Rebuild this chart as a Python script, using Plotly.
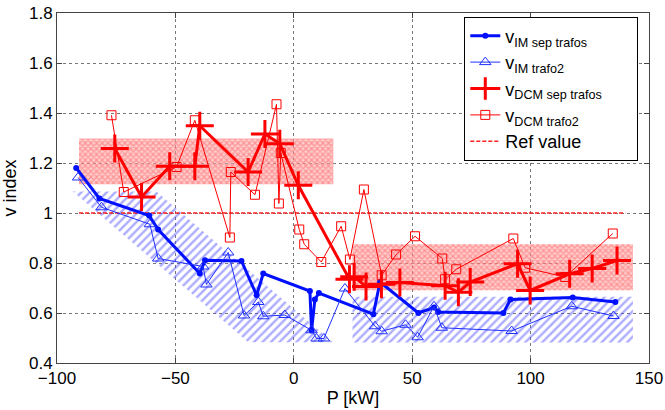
import plotly.graph_objects as go

# ---- data ----
im_sep_x = [-91.9, -82.1, -61.1, -57.3, -39.7, -37.5, -22.1, -15.7, -12.9, 6.8, 7.5, 8.9, 10.6,
            33.6, 36.4, 52.6, 59.2, 61.0, 88.5, 91.5, 117.8, 135.8]
im_sep_y = [1.18, 1.058, 0.99, 0.934, 0.758, 0.811, 0.808, 0.671, 0.758, 0.688, 0.53, 0.654, 0.68,
            0.595, 0.724, 0.600, 0.622, 0.604, 0.600, 0.654, 0.662, 0.644]

im_t2_x = [-91.1, -81.2, -60.8, -57.3, -38.3, -36.9, -27.7, -21.0, -15.0, -12.9, -3.8, 7.5, 9.6, 12.7,
           21.6, 34.3, 37.1, 47.2, 52.3, 59.2, 62.5, 92.0, 117.4, 135.0]
im_t2_y = [1.142, 1.023, 0.955, 0.818, 0.786, 0.714, 0.842, 0.59, 0.644, 0.587, 0.592, 0.531, 0.498, 0.498,
           0.698, 0.547, 0.527, 0.553, 0.503, 0.627, 0.541, 0.528, 0.627, 0.588]

dcm_sep_x = [-75.6, -64.3, -52.4, -41.8, -39.7, -19.3, -12.2, -5.9, 1.9, 23.5, 25.5, 30.5, 37.0,
             44.8, 63.9, 69.5, 74.5, 94.5, 99.8, 116.5, 126.0, 136.5]
dcm_sep_y = [1.258, 1.064, 1.187, 1.187, 1.349, 1.164, 1.316, 1.277, 1.111, 0.735, 0.745, 0.706, 0.715,
             0.722, 0.709, 0.683, 0.724, 0.797, 0.69, 0.757, 0.778, 0.81]

dcm_t2_x = [-77.0, -71.8, -49.5, -41.8, -27.0, -26.6, -16.4, -7.3, -6.3, -5.5, 2.3, 4.4, 11.6, 20.0,
            23.7, 29.6, 37.1, 43.2, 51.2, 62.7, 63.9, 68.6, 92.7, 97.7, 114.6, 134.7]
dcm_t2_y = [1.391, 1.084, 1.184, 1.371, 0.902, 1.164, 1.073, 1.435, 1.038, 1.24, 0.934, 0.875, 0.804, 0.947,
            0.814, 1.094, 0.751, 0.834, 0.907, 0.818, 0.735, 0.775, 0.898, 0.781, 0.744, 0.918]

ref_x = [-90.7, 140.0]
ref_y = [1.0, 1.0]

# shaded bands (region outlines)
red_band1_x = [-90.7, 16.7, 16.7, -90.7, -90.7]
red_band1_y = [1.115, 1.115, 1.298, 1.298, 1.115]
red_band2_x = [24.8, 143.2, 143.2, 24.8, 24.8]
red_band2_y = [0.691, 0.691, 0.875, 0.875, 0.691]
blue_band1_x = [-93.3, -58.0, 16.5, -19.2, -93.3]
blue_band1_y = [1.086, 1.086, 0.483, 0.483, 1.086]
blue_band2_x = [24.8, 143.2, 143.2, 24.8, 24.8]
blue_band2_y = [0.482, 0.482, 0.665, 0.665, 0.482]

x_ticks = [-100, -50, 0, 50, 100, 150]
y_ticks = [0.4, 0.6, 0.8, 1.0, 1.2, 1.4, 1.6, 1.8]
y_tick_text = ["0.4", "0.6", "0.8", "1", "1.2", "1.4", "1.6", "1.8"]

FONT = "Liberation Sans, Arial, sans-serif"

fig = go.Figure()

blue_pat = dict(shape="/", size=6, solidity=0.4, fgcolor="rgba(70,70,255,0.9)", bgcolor="rgba(0,0,0,0)")
red_pat = dict(shape="x", size=4, solidity=0.5, fgcolor="rgba(255,60,60,0.8)", bgcolor="rgba(255,160,160,0.55)")

for bx, by, pat in [(blue_band1_x, blue_band1_y, blue_pat), (blue_band2_x, blue_band2_y, blue_pat),
                    (red_band1_x, red_band1_y, red_pat), (red_band2_x, red_band2_y, red_pat)]:
    fig.add_trace(go.Scatter(x=bx, y=by, fill="toself", mode="lines", line=dict(width=0),
                             fillcolor="rgba(0,0,0,0)", fillpattern=pat, showlegend=False, hoverinfo="skip"))

fig.add_trace(go.Scatter(x=ref_x, y=ref_y, mode="lines", name="Ref value", legendrank=1005,
                         line=dict(color="#ff2020", width=1.5, dash="4px,2px")))

fig.add_trace(go.Scatter(x=im_sep_x, y=im_sep_y, mode="lines+markers", legendrank=1001,
                         name="v<sub>IM sep trafos</sub>",
                         line=dict(color="#0010ff", width=3),
                         marker=dict(symbol="circle", size=6, color="#0010ff")))
fig.add_trace(go.Scatter(x=im_t2_x, y=im_t2_y, mode="lines+markers", legendrank=1002,
                         name="v<sub>IM trafo2</sub>",
                         line=dict(color="#2030ff", width=1),
                         marker=dict(symbol="triangle-up-open", size=10, color="#2030ff", line=dict(width=1))))
fig.add_trace(go.Scatter(x=dcm_sep_x, y=dcm_sep_y, mode="lines+markers", legendrank=1003,
                         name="v<sub>DCM sep trafos</sub>&nbsp;&nbsp;&nbsp;&nbsp;&nbsp;&nbsp;",
                         line=dict(color="#ff0000", width=3),
                         marker=dict(symbol="cross-thin-open", size=20, color="#ff0000", line=dict(width=3, color="#ff0000"))))
fig.add_trace(go.Scatter(x=dcm_t2_x, y=dcm_t2_y, mode="lines+markers", legendrank=1004,
                         name="v<sub>DCM trafo2</sub>",
                         line=dict(color="#ff0000", width=1),
                         marker=dict(symbol="square-open", size=9, color="#ff0000", line=dict(width=1))))

axis_common = dict(showline=True, linecolor="#444", linewidth=1, mirror="ticks", ticks="inside",
                   ticklen=5, tickcolor="#444", showgrid=True, gridcolor="#777", griddash="dot",
                   gridwidth=1, zeroline=False, tickfont=dict(size=17, color="black"), automargin=False)

fig.update_xaxes(range=[-100, 150], tickvals=x_ticks, title=dict(text="P [kW]", font=dict(size=18), standoff=3),
                 **axis_common)
fig.update_yaxes(range=[0.4, 1.8], tickvals=y_ticks, ticktext=y_tick_text,
                 title=dict(text="v index", font=dict(size=18), standoff=8), **axis_common)

fig.update_layout(
    width=665, height=410,
    margin=dict(l=57, r=16, t=13, b=47, autoexpand=False),
    paper_bgcolor="white", plot_bgcolor="white",
    font=dict(family=FONT, size=18, color="black"),
    showlegend=True,
    legend=dict(x=0.688, y=0.99, xanchor="left", yanchor="top", bgcolor="white",
                bordercolor="black", borderwidth=1, font=dict(size=18), tracegroupgap=0,
                itemwidth=30),
)

fig.write_html("out.html", config={"displayModeBar": False},
               post_script="document.body.style.margin='0';document.body.style.overflow='hidden';")
